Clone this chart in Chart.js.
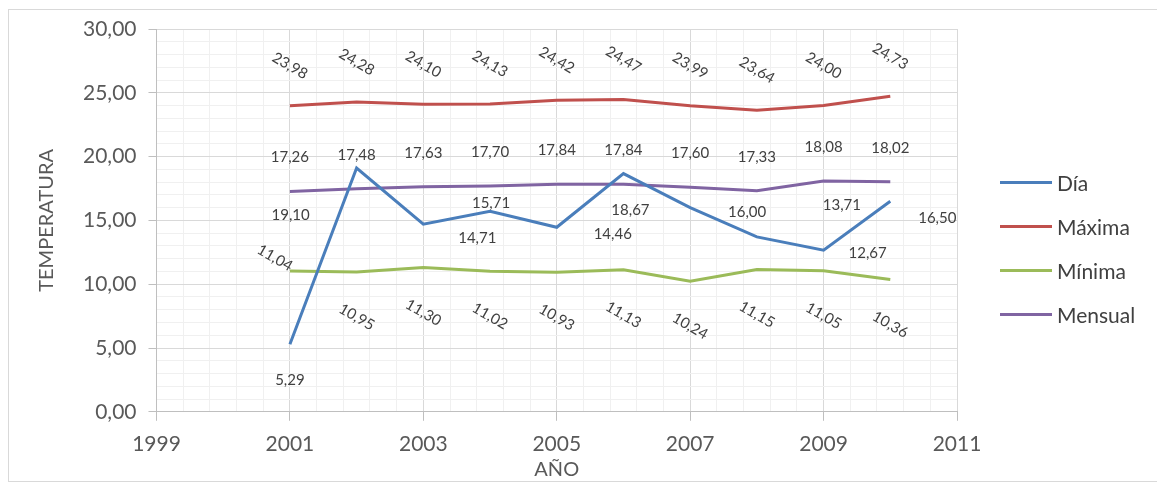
<!DOCTYPE html>
<html>
<head>
<meta charset="utf-8">
<script src="https://cdn.jsdelivr.net/npm/chart.js@4.4.1/dist/chart.umd.min.js"></script>
<style>
  body { margin: 0; background: #fff; font-family: Lato, sans-serif; }
  #wrap { position: relative; width: 1157px; height: 484px; overflow: hidden; }
  #marco { position: absolute; left: 8px; top: 9px; width: 1200px; height: 471px; border: 1px solid #d9d9d9; }
  #grafico { position: absolute; left: 0; top: 0; }
  #leyenda { position: absolute; left: 1000px; top: 160px; }
  .item { height: 44px; display: flex; align-items: center; font-size: 21px; color: #404040; }
  .item span.linea { display: inline-block; width: 52px; height: 3px; margin-right: 5px; }
</style>
</head>
<body>
<div id="wrap">
  <div id="marco"></div>
  <canvas id="grafico" width="1157" height="484"></canvas>
  <div id="leyenda"></div>
</div>
<script>
// DATOS
const anios = [2001, 2002, 2003, 2004, 2005, 2006, 2007, 2008, 2009, 2010];
const dia = [5.29, 19.10, 14.71, 15.71, 14.46, 18.67, 16.00, 13.71, 12.67, 16.50];
const maxima = [23.98, 24.28, 24.10, 24.13, 24.42, 24.47, 23.99, 23.64, 24.00, 24.73];
const minima = [11.04, 10.95, 11.30, 11.02, 10.93, 11.13, 10.24, 11.15, 11.05, 10.36];
const mensual = [17.26, 17.48, 17.63, 17.70, 17.84, 17.84, 17.60, 17.33, 18.08, 18.02];
const nombres = ["Día", "Máxima", "Mínima", "Mensual"];
const colores = ["#4a7ebb", "#c0504d", "#9bbb59", "#8064a2"];

// posicion de las etiquetas (desplazamiento en px respecto al punto)
const etiquetas = [
    { dx: [0, -66, 54, 1, 56, 7, 57, 85, 44, 47], dy: [36, 47, 14, -8, 7, 37, 5, -32, 3, 17], rot: 0 },
    { dx: [0], dy: [-40], rot: 30 },
    { dx: [-15, 0], dy: [-13, 45, 45, 45, 45, 45, 45, 45, 45, 45], rot: 30 },
    { dx: [0], dy: [-34], rot: 0 }
];

function fmt(v) {
    return v.toFixed(2).replace('.', ',');
}

const series = [dia, maxima, minima, mensual];
const datasets = series.map((s, k) => ({
    label: nombres[k],
    data: s.map((v, i) => ({ x: anios[i], y: v })),
    borderColor: colores[k],
    backgroundColor: colores[k],
    borderWidth: 3,
    pointRadius: 0,
    tension: 0,
    fill: false
}));

const pluginEtiquetas = {
    id: 'etiquetas',
    afterDatasetsDraw(chart) {
        const ctx = chart.ctx;
        ctx.save();
        ctx.font = '15px Lato';
        ctx.fillStyle = '#404040';
        ctx.textAlign = 'center';
        ctx.textBaseline = 'middle';
        chart.data.datasets.forEach((ds, k) => {
            const meta = chart.getDatasetMeta(k);
            const cfg = etiquetas[k];
            meta.data.forEach((p, i) => {
                const dx = cfg.dx[i] !== undefined ? cfg.dx[i] : cfg.dx[cfg.dx.length - 1];
                const dy = cfg.dy[i] !== undefined ? cfg.dy[i] : cfg.dy[cfg.dy.length - 1];
                ctx.save();
                ctx.translate(p.x + dx, p.y + dy);
                ctx.rotate(cfg.rot * Math.PI / 180);
                ctx.fillText(fmt(ds.data[i].y), 0, 0);
                ctx.restore();
            });
        });
        ctx.restore();
    }
};

function esMayorX(v) {
    const r = (v - 1999) / 2;
    return Math.abs(r - Math.round(r)) < 1e-6;
}

const ctx = document.getElementById('grafico').getContext('2d');
new Chart(ctx, {
    type: 'line',
    data: { datasets: datasets },
    options: {
        responsive: false,
        animation: false,
        layout: { padding: { left: 20, right: 200, top: 29, bottom: 0 } },
        plugins: { legend: { display: false }, tooltip: { enabled: false } },
        scales: {
            x: {
                type: 'linear',
                min: 1999,
                max: 2011,
                ticks: {
                    stepSize: 0.4,
                    autoSkip: false,
                    maxRotation: 0,
                    padding: 11,
                    color: '#595959',
                    font: { family: 'Lato', size: 21 },
                    callback: v => esMayorX(v) ? String(Math.round(v)) : ''
                },
                grid: {
                    color: c => esMayorX(c.tick.value) ? '#d9d9d9' : '#f0f0f0',
                    tickColor: c => esMayorX(c.tick.value) ? '#bfbfbf' : 'rgba(0,0,0,0)',
                    tickLength: 9
                },
                border: { color: '#bfbfbf' },
                title: {
                    display: true,
                    text: 'AÑO',
                    color: '#595959',
                    font: { family: 'Lato', size: 20 },
                    padding: { top: -10, bottom: 2 }
                }
            },
            y: {
                min: 0,
                max: 30,
                ticks: {
                    stepSize: 1,
                    autoSkip: false,
                    padding: 12,
                    color: '#595959',
                    font: { family: 'Lato', size: 21 },
                    callback: v => v % 5 === 0 ? fmt(v) : ''
                },
                grid: {
                    color: c => c.tick.value % 5 === 0 ? '#d9d9d9' : '#f0f0f0',
                    tickColor: c => c.tick.value % 5 === 0 ? '#bfbfbf' : 'rgba(0,0,0,0)',
                    tickLength: 8
                },
                border: { color: '#bfbfbf' },
                title: {
                    display: true,
                    text: 'TEMPERATURA',
                    color: '#595959',
                    font: { family: 'Lato', size: 20 },
                    padding: { top: 15, bottom: 12 }
                }
            }
        }
    },
    plugins: [pluginEtiquetas]
});

// LEYENDA
const ley = document.getElementById('leyenda');
nombres.forEach((n, k) => {
    ley.innerHTML += `<div class="item"><span class="linea" style="background:${colores[k]}"></span>${n}</div>`;
});
</script>
</body>
</html>
